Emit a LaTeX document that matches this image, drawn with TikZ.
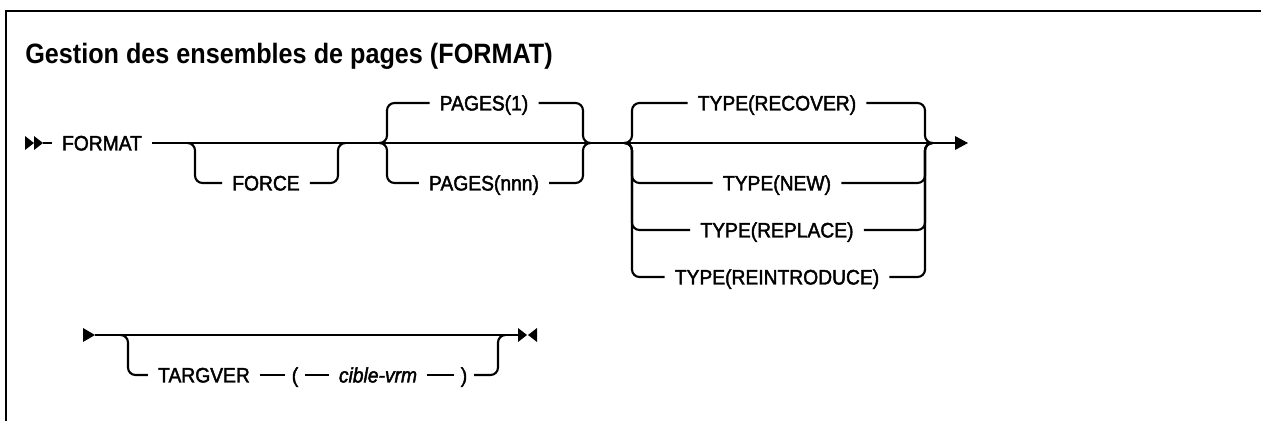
\documentclass[tikz,border=0pt]{standalone}
\usepackage{fontspec}
\setmainfont{Liberation Sans}
\newfontfamily\railfont[FakeStretch=0.92,FakeBold=2]{Liberation Sans}
\newfontfamily\titlefont[FakeStretch=0.9]{Liberation Sans}
\tikzset{
  kw/.style={inner xsep=7.5pt, inner ysep=0pt, text height=11.2pt, text depth=0pt,
    font=\railfont\fontsize{15.7}{18}\selectfont},
  paren/.style={kw, inner xsep=5pt},
  rail/.style={line width=1.6pt, rounded corners=5.6pt},
}
\begin{document}
\begin{tikzpicture}[x=0.75pt,y=-0.75pt]
    \useasboundingbox (0,0) rectangle (1261,421);
    \draw[line width=1.9pt](6,422)--(6,11)--(1262,11);
    \node[anchor=base west, inner sep=0pt, font=\titlefont\bfseries\fontsize{21}{25}\selectfont] (title) at(25,63){Gestion des ensembles de pages (FORMAT)};
    % first row
    \fill(25,136)--(34,143)--(25,150)--cycle;
    \fill(34,136)--(43,143)--(34,150)--cycle;
    \coordinate (start) at(43,143);
    \node[kw] (format) at(102,143){FORMAT};
    \coordinate (end) at(955,143);
    \draw[rail](start)--(format.west);
    \draw[rail](format.east)--(end);
    \fill(955,136)--(968,143)--(955,150)--cycle;
    % FORCE
    \coordinate (fa) at(188,143);
    \coordinate (fb) at(345,143);
    \node[kw] (force) at(266,183){FORCE};
    \draw[rail](fa)--++(7,0)|-(force.west);
    \draw[rail](fb)--++(-7,0)|-(force.east);
    % PAGES
    \coordinate (pa) at(380,143);
    \coordinate (pb) at(590,143);
    \node[kw] (pages1) at(484,103){PAGES(1)};
    \node[kw] (pagesn) at(484,183){PAGES(nnn)};
    \foreach \n in {pages1,pagesn}{
        \draw[rail](pa)--++(7,0)|-(\n.west);
        \draw[rail](pb)--++(-7,0)|-(\n.east);
    }
    % TYPE
    \coordinate (ta) at(625,143);
    \coordinate (tb) at(932,143);
    \node[kw] (recover) at(777,103){TYPE(RECOVER)};
    \node[kw] (new) at(777,183){TYPE(NEW)};
    \node[kw] (replace) at(777,230){TYPE(REPLACE)};
    \node[kw] (reintro) at(777,277){TYPE(REINTRODUCE)};
    \foreach \n in {recover,new,replace,reintro}{
        \draw[rail](ta)--++(7,0)|-(\n.west);
        \draw[rail](tb)--++(-7,0)|-(\n.east);
    }
    % second row
    \fill(83,328)--(95,335)--(83,342)--cycle;
    \coordinate (start2) at(95,335);
    \coordinate (end2) at(518,335);
    \draw[rail](start2)--(end2);
    \fill(518,328)--(527,335)--(518,342)--cycle;
    \fill(537,328)--(528,335)--(537,342)--cycle;
    % TARGVER
    \coordinate (ga) at(121,335);
    \coordinate (gb) at(505,335);
    \node[kw] (targver) at(204,375){TARGVER};
    \node[paren] (lparen) at(295,375){(};
    \node[kw] (cible) at(378,375){\textit{cible-vrm}};
    \node[paren] (rparen) at(464,375){)};
    \draw[rail](ga)--++(7,0)|-(targver.west);
    \draw[rail](targver.east)--(lparen.west);
    \draw[rail](lparen.east)--(cible.west);
    \draw[rail](cible.east)--(rparen.west);
    \draw[rail](gb)--++(-7,0)|-(rparen.east);
\end{tikzpicture}
\end{document}
